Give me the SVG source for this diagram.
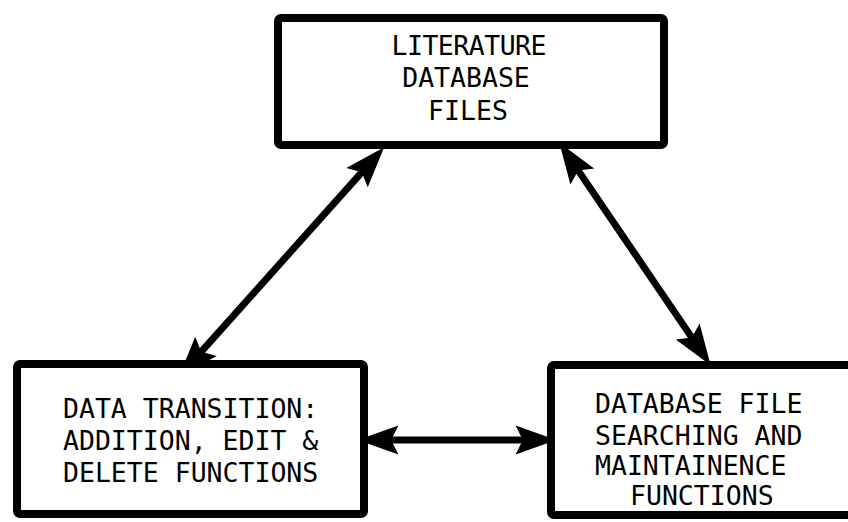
<svg xmlns="http://www.w3.org/2000/svg" width="848" height="522" viewBox="0 0 848 522">
  <style>
    .box { fill: #ffffff; stroke: #000000; stroke-width: 8; }
    .lbl { font-family: "DejaVu Sans Mono", "Liberation Mono", monospace; font-size: 26.5px; fill: #000000; }
    .conn { stroke: #000000; stroke-width: 7; fill: none; marker-start: url(#ah); marker-end: url(#ah); }
  </style>
  <defs>
    <marker id="ah" markerUnits="userSpaceOnUse" orient="auto-start-reverse" refX="0" refY="0" markerWidth="60" markerHeight="60" viewBox="-20 -20 50 40" overflow="visible">
      <path d="M22,0 L-12,-12 L-6,0 L-12,12 Z" fill="#000000"/>
    </marker>
  </defs>
  <rect width="848" height="522" fill="#ffffff"/>
  <g id="connectors">
    <line class="conn" x1="366.6" y1="166.9" x2="196.4" y2="357.1"/>
    <line class="conn" x1="574.2" y1="164.6" x2="695.8" y2="343.4"/>
    <line class="conn" x1="384" y1="440" x2="530" y2="440"/>
  </g>
  <g id="literature">
    <rect class="box" x="278" y="18" width="386" height="127" rx="3"/>
    <text class="lbl" x="469" y="55" text-anchor="middle" textLength="155" font-size="25.5">LITERATURE</text>
    <text class="lbl" x="466" y="87" text-anchor="middle" font-size="25.5">DATABASE</text>
    <text class="lbl" x="468" y="120" text-anchor="middle" font-size="25.5">FILES</text>
  </g>
  <g id="transition">
    <rect class="box" x="17" y="364" width="347" height="150" rx="3"/>
    <text class="lbl" x="63" y="418">DATA TRANSITION:</text>
    <text class="lbl" x="63" y="450">ADDITION, EDIT &amp;</text>
    <text class="lbl" x="63" y="482">DELETE FUNCTIONS</text>
  </g>
  <g id="searching">
    <rect class="box" x="551" y="365" width="320" height="150" rx="3"/>
    <text class="lbl" x="595" y="413">DATABASE FILE</text>
    <text class="lbl" x="595" y="445">SEARCHING AND</text>
    <text class="lbl" x="595" y="475">MAINTAINENCE</text>
    <text class="lbl" x="630" y="505">FUNCTIONS</text>
  </g>
</svg>
